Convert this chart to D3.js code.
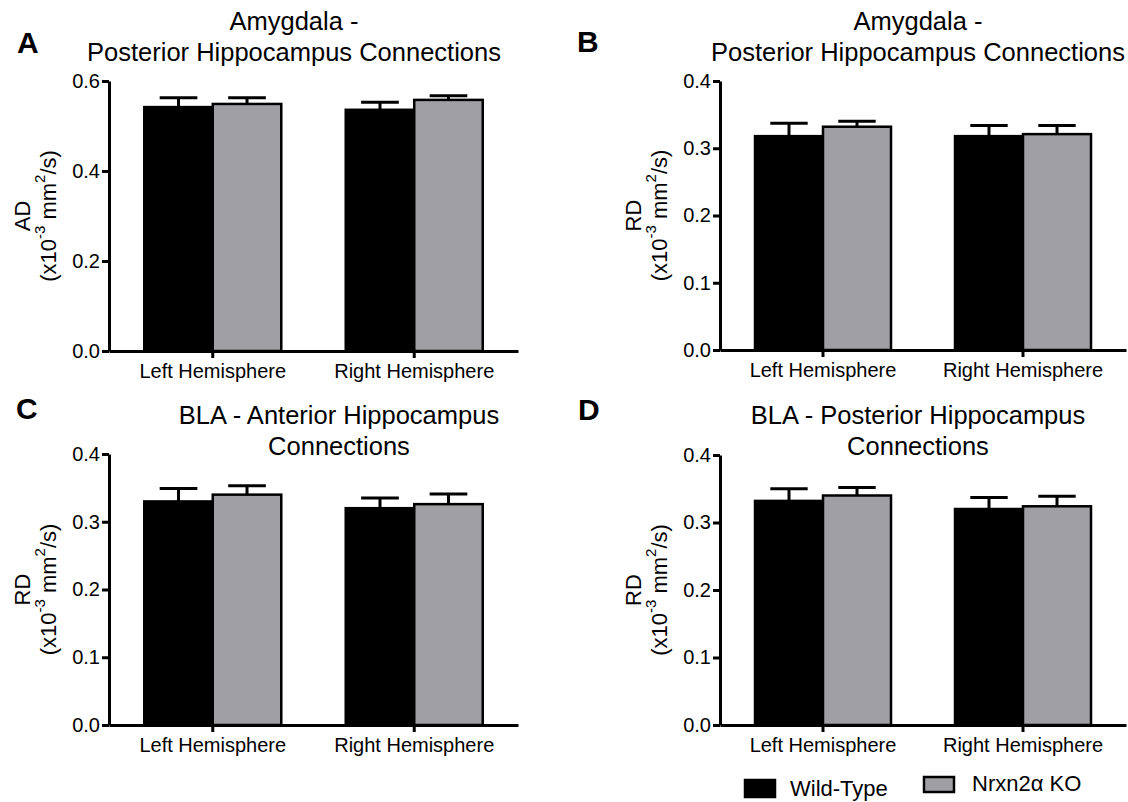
<!DOCTYPE html>
<html>
<head>
<meta charset="utf-8">
<script src="https://cdn.jsdelivr.net/npm/d3@7"></script>
<style>
  body { margin: 0; background: #fff; }
  svg { display: block; font-family: "Liberation Sans", Arial, sans-serif; }
  .axis path, .axis line { stroke: #000; stroke-width: 3; }
  .axis text { font-size: 20px; fill: #000; }
</style>
</head>
<body>
<svg id="fig" width="1128" height="802"></svg>
<script>
// categories and groups
const categories = ["Left Hemisphere", "Right Hemisphere"];
const groups = ["Wild-Type", "Nrxn2α KO"];
const groupColors = ["#000000", "#a09fa4"];

// mean values (x10^-3 mm2/s), per panel: [Left, Right]
const aWT = [0.542, 0.536], aWTerr = [0.021, 0.017];
const aKO = [0.549, 0.558], aKOerr = [0.014, 0.009];
const bWT = [0.318, 0.318], bWTerr = [0.019, 0.016];
const bKO = [0.332, 0.321], bKOerr = [0.008, 0.013];
const cWT = [0.330, 0.320], cWTerr = [0.019, 0.015];
const cKO = [0.340, 0.326], cKOerr = [0.013, 0.015];
const dWT = [0.332, 0.320], dWTerr = [0.018, 0.017];
const dKO = [0.340, 0.324], dKOerr = [0.012, 0.015];

const ticksAD = [0, 0.2, 0.4, 0.6];
const ticksRD = [0, 0.1, 0.2, 0.3, 0.4];

// panel layout (pixels)
const panels = [
  {letter: "A", lx: 17, ly: 53, title: ["Amygdala -", "Posterior Hippocampus Connections"], tx: 294, ty: [30, 61],
   x0: 109, x1: 518, top: 81, bottom: 351, ymax: 0.6, ticks: ticksAD, ylab: "AD",
   wt: aWT, wtErr: aWTerr, ko: aKO, koErr: aKOerr},
  {letter: "B", lx: 577, ly: 52, title: ["Amygdala -", "Posterior Hippocampus Connections"], tx: 918, ty: [30, 61],
   x0: 720, x1: 1126, top: 81, bottom: 350, ymax: 0.4, ticks: ticksRD, ylab: "RD",
   wt: bWT, wtErr: bWTerr, ko: bKO, koErr: bKOerr},
  {letter: "C", lx: 16, ly: 419, title: ["BLA - Anterior Hippocampus", "Connections"], tx: 339, ty: [424, 455],
   x0: 109, x1: 518, top: 454, bottom: 725, ymax: 0.4, ticks: ticksRD, ylab: "RD",
   wt: cWT, wtErr: cWTerr, ko: cKO, koErr: cKOerr},
  {letter: "D", lx: 578, ly: 420, title: ["BLA - Posterior Hippocampus", "Connections"], tx: 918, ty: [424, 455],
   x0: 720, x1: 1126, top: 455, bottom: 725, ymax: 0.4, ticks: ticksRD, ylab: "RD",
   wt: dWT, wtErr: dWTerr, ko: dKO, koErr: dKOerr}
];

const svg = d3.select("#fig");

panels.forEach(p => {
  const g = svg.append("g");

  let x = d3.scaleBand().domain(categories).range([p.x0, p.x1])
    .paddingInner(0.32).paddingOuter(0.175);
  let xSub = d3.scaleBand().domain(groups).range([0, x.bandwidth()]);
  let y = d3.scaleLinear().domain([0, p.ymax]).range([p.bottom, p.top]);

  // panel letter
  g.append("text").attr("x", p.lx).attr("y", p.ly)
    .attr("font-size", 30).attr("font-weight", "bold").text(p.letter);

  // title
  p.title.forEach((t, i) => {
    g.append("text").attr("x", p.tx).attr("y", p.ty[i])
      .attr("text-anchor", "middle").attr("font-size", 25.5).text(t);
  });

  // y label
  let cy = (p.top + p.bottom) / 2;
  g.append("text").attr("transform", `translate(${p.x0 - 87},${cy}) rotate(-90)`)
    .attr("text-anchor", "middle").attr("dominant-baseline", "central")
    .attr("font-size", 22).text(p.ylab);
  let yl2 = g.append("text").attr("transform", `translate(${p.x0 - 61},${cy}) rotate(-90)`)
    .attr("text-anchor", "middle").attr("dominant-baseline", "central")
    .attr("font-size", 22);
  yl2.append("tspan").text("(x10");
  yl2.append("tspan").attr("baseline-shift", "super").attr("font-size", 15).text("-3");
  yl2.append("tspan").text(" mm");
  yl2.append("tspan").attr("baseline-shift", "super").attr("font-size", 15).text("2");
  yl2.append("tspan").text("/s)");

  // bars
  let rows = [];
  categories.forEach((c, i) => {
    rows.push({cat: c, grp: groups[0], v: p.wt[i], e: p.wtErr[i], col: groupColors[0]});
    rows.push({cat: c, grp: groups[1], v: p.ko[i], e: p.koErr[i], col: groupColors[1]});
  });

  let bw = xSub.bandwidth();
  let capW = bw * 0.55;

  // error bars (only upper)
  let eb = g.append("g").attr("stroke", "#000").attr("stroke-width", 3);
  eb.selectAll("line.v").data(rows).enter().append("line").attr("class", "v")
    .attr("x1", d => x(d.cat) + xSub(d.grp) + bw / 2)
    .attr("x2", d => x(d.cat) + xSub(d.grp) + bw / 2)
    .attr("y1", d => y(d.v))
    .attr("y2", d => y(d.v + d.e));
  eb.selectAll("line.cap").data(rows).enter().append("line").attr("class", "cap")
    .attr("x1", d => x(d.cat) + xSub(d.grp) + bw / 2 - capW / 2)
    .attr("x2", d => x(d.cat) + xSub(d.grp) + bw / 2 + capW / 2)
    .attr("y1", d => y(d.v + d.e))
    .attr("y2", d => y(d.v + d.e));

  g.selectAll("rect.bar").data(rows).enter().append("rect")
    .attr("class", "bar")
    .attr("x", d => x(d.cat) + xSub(d.grp))
    .attr("y", d => y(d.v))
    .attr("width", bw)
    .attr("height", d => y(0) - y(d.v))
    .attr("fill", d => d.col)
    .attr("stroke", "#000")
    .attr("stroke-width", 2.5);

  // axes
  g.append("g").attr("class", "axis")
    .attr("transform", `translate(${p.x0},0)`)
    .call(d3.axisLeft(y).tickValues(p.ticks).tickFormat(d3.format(".1f"))
      .tickSize(7).tickSizeOuter(0).tickPadding(2));

  let xa = g.append("g").attr("class", "axis")
    .attr("transform", `translate(0,${p.bottom})`)
    .call(d3.axisBottom(x).tickSize(7).tickSizeOuter(0).tickPadding(6));
  xa.selectAll("text").attr("font-size", 20);
  g.selectAll(".axis").attr("font-family", null).attr("font-size", null);
});

// legend
const legX = [745, 924];
const leg = svg.append("g");
groups.forEach((gname, i) => {
  leg.append("rect").attr("x", legX[i]).attr("y", i === 0 ? 780 : 777)
    .attr("width", 30).attr("height", i === 0 ? 17 : 15)
    .attr("fill", groupColors[i]).attr("stroke", "#000").attr("stroke-width", 2.5);
  leg.append("text").attr("x", legX[i] + (i === 0 ? 45 : 48)).attr("y", i === 0 ? 796 : 791)
    .attr("font-size", 22).text(gname);
});
</script>
</body>
</html>
